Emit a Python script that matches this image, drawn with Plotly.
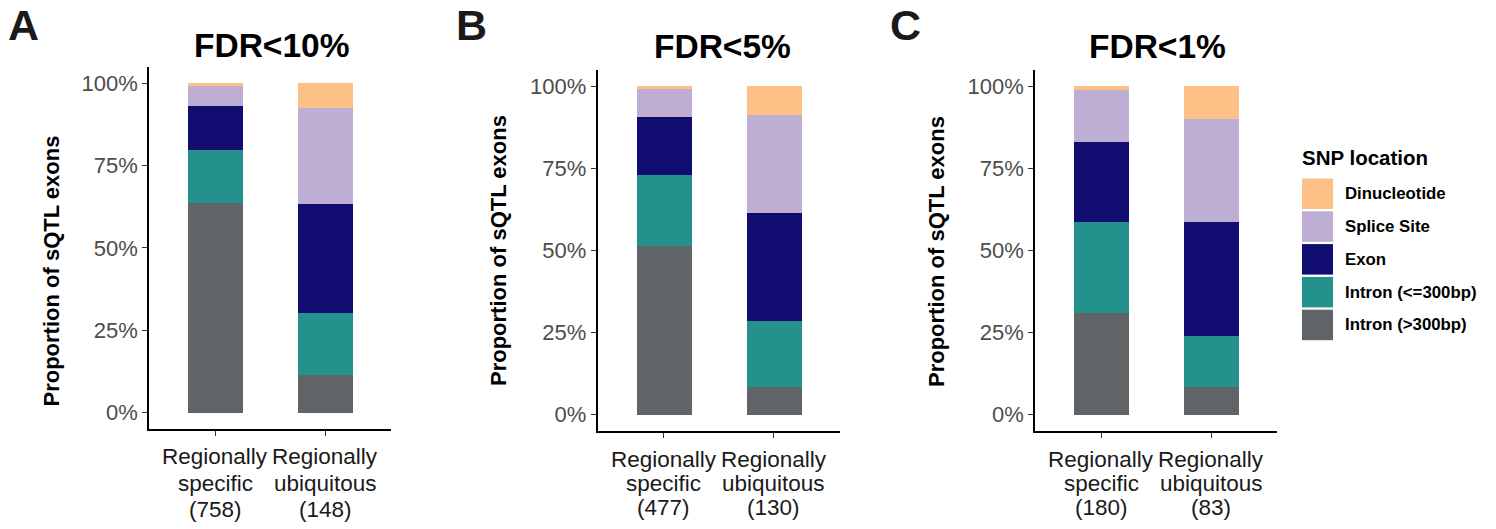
import plotly.graph_objects as go

# ---------------- data ----------------
locations = ["Intron (&gt;300bp)", "Intron (&lt;=300bp)", "Exon", "Splice Site", "Dinucleotide"]  # bottom -> top
colors = ["#606466", "#25918C", "#110C6F", "#BEAED4", "#FDC086"]

panel_titles = ["FDR&lt;10%", "FDR&lt;5%", "FDR&lt;1%"]
panel_letters = ["A", "B", "C"]

group_lines = [["Regionally", "specific"], ["Regionally", "ubiquitous"]]
counts_A = [758, 148]
counts_B = [477, 130]
counts_C = [180, 83]

# percentages per location (bottom -> top) for [specific, ubiquitous]
A_specific = [63.8, 16.1, 13.2, 6.3, 0.6]
A_ubiquitous = [11.5, 18.9, 32.9, 29.2, 7.5]
B_specific = [51.5, 21.4, 17.7, 8.9, 0.5]
B_ubiquitous = [8.5, 19.9, 33.1, 29.8, 8.7]
C_specific = [31.1, 27.7, 24.4, 15.6, 1.2]
C_ubiquitous = [8.3, 15.6, 34.9, 31.3, 9.9]

y_tickvals = [0, 25, 50, 75, 100]
y_ticktext = ["0%", "25%", "50%", "75%", "100%"]

legend_title = "SNP location"
y_title = "Proportion of sQTL exons"

# ---------------- layout helpers ----------------
W, H = 1496, 529
FONT = "Liberation Sans, Arial, Helvetica, sans-serif"


def px_x(x):
    return x / W


def px_y(y):
    return 1 - y / H


panels = [
    dict(counts=counts_A, spec=A_specific, ubiq=A_ubiquitous,
         xdom=(149, 391), ydom=(428.8, 66.8), xlab_y=(456.5, 483, 509.5),
         title_xy=(271, 46), letter_xy=(23, 24.5), ytitle_xy=(50.5, 271)),
    dict(counts=counts_B, spec=B_specific, ubiq=B_ubiquitous,
         xdom=(597.5, 839.5), ydom=(430.7, 69.6), xlab_y=(459, 483, 507),
         title_xy=(722, 46.5), letter_xy=(471, 25), ytitle_xy=(498, 251)),
    dict(counts=counts_C, spec=C_specific, ubiq=C_ubiquitous,
         xdom=(1035, 1277), ydom=(430.7, 69.6), xlab_y=(459, 483, 507),
         title_xy=(1157, 46.5), letter_xy=(905, 25), ytitle_xy=(936, 251)),
]

fig = go.Figure()
annotations = []
shapes = []

for i, p in enumerate(panels):
    sfx = "" if i == 0 else str(i + 1)
    cats = [" ".join(gl) + " (%d)" % c for gl, c in zip(group_lines, p["counts"])]
    for k, loc in enumerate(locations):
        fig.add_trace(go.Bar(
            x=cats, y=[p["spec"][k], p["ubiq"][k]],
            name=loc, marker=dict(color=colors[k], line=dict(width=0)),
            width=0.5, showlegend=False,
            xaxis="x" + sfx, yaxis="y" + sfx,
        ))
    xa = dict(
        domain=[px_x(p["xdom"][0]), px_x(p["xdom"][1])],
        anchor="y" + sfx, type="category", range=[-0.6, 1.6],
        showline=True, linecolor="black", linewidth=1.6,
        ticks="outside", ticklen=5, tickwidth=1.3, tickcolor="#333333",
        showgrid=False, zeroline=False, showticklabels=False,
        fixedrange=True,
    )
    ya = dict(
        domain=[px_y(p["ydom"][0]), px_y(p["ydom"][1])],
        anchor="x" + sfx, range=[-5, 105],
        tickvals=y_tickvals, ticktext=y_ticktext,
        showline=True, linecolor="black", linewidth=1.6,
        ticks="outside", ticklen=5, tickwidth=1.3, tickcolor="#333333",
        showgrid=False, zeroline=False,
        tickfont=dict(family=FONT, size=22, color="#4d4d4d"),
        fixedrange=True,
    )
    fig.layout["xaxis" + sfx] = xa
    fig.layout["yaxis" + sfx] = ya

    # multi-line category labels (one annotation per line, for ggplot-like line spacing)
    for ci, (gl, c) in enumerate(zip(group_lines, p["counts"])):
        lines = gl + ["(%d)" % c]
        for li, txt in enumerate(lines):
            annotations.append(dict(
                text=txt, x=ci, y=px_y(p["xlab_y"][li]),
                xref="x" + sfx, yref="paper", showarrow=False,
                xanchor="center", yanchor="middle",
                font=dict(family=FONT, size=22.5, color="#1a1a1a")))

    annotations.append(dict(
        text="<b>" + panel_titles[i] + "</b>", x=px_x(p["title_xy"][0]), y=px_y(p["title_xy"][1]),
        xref="paper", yref="paper", showarrow=False, xanchor="center", yanchor="middle",
        font=dict(family=FONT, size=33.5, color="black")))
    annotations.append(dict(
        text="<b>" + panel_letters[i] + "</b>", x=px_x(p["letter_xy"][0]), y=px_y(p["letter_xy"][1]),
        xref="paper", yref="paper", showarrow=False, xanchor="center", yanchor="middle",
        font=dict(family=FONT, size=43, color="#1a1a1a")))
    annotations.append(dict(
        text="<b>" + y_title + "</b>", x=px_x(p["ytitle_xy"][0]), y=px_y(p["ytitle_xy"][1]),
        xref="paper", yref="paper", showarrow=False, xanchor="center", yanchor="middle",
        textangle=-90, font=dict(family=FONT, size=22, color="black")))

# ---------------- manual legend ----------------
leg_x0, leg_x1 = 1302, 1333
row_top = 178.5
row_h = 32.8
sw_h = 30.5
annotations.append(dict(
    text="<b>" + legend_title + "</b>", x=px_x(1300), y=px_y(157.5),
    xref="paper", yref="paper", showarrow=False, xanchor="left", yanchor="middle",
    font=dict(family=FONT, size=20.5, color="black")))
for j, k in enumerate(reversed(range(len(locations)))):
    y0 = row_top + j * row_h
    shapes.append(dict(type="rect", xref="paper", yref="paper",
                       x0=px_x(leg_x0), x1=px_x(leg_x1), y0=px_y(y0), y1=px_y(y0 + sw_h),
                       fillcolor=colors[k], line=dict(width=0)))
    annotations.append(dict(
        text="<b>" + locations[k] + "</b>", x=px_x(1343), y=px_y(y0 + sw_h / 2),
        xref="paper", yref="paper", showarrow=False, xanchor="left", yanchor="middle",
        font=dict(family=FONT, size=16.8, color="black")))

fig.update_layout(
    width=W, height=H, margin=dict(l=0, r=0, t=0, b=0),
    barmode="stack", bargap=0,
    paper_bgcolor="white", plot_bgcolor="white",
    showlegend=False,
    annotations=annotations, shapes=shapes,
    font=dict(family=FONT),
)

fig.write_html("out.html", config={"displayModeBar": False},
               post_script="document.body.style.margin='0px';document.body.style.overflow='hidden';")
